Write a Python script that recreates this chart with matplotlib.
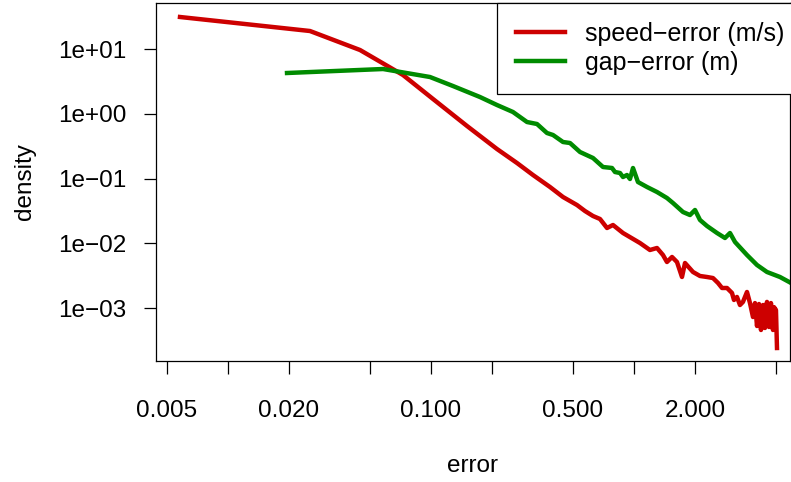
import matplotlib
matplotlib.use("Agg")
import matplotlib.pyplot as plt

plt.rcParams['font.family'] = ['Liberation Sans', 'DejaVu Sans']

# speed-error density
speed_x = [0.00582, 0.0254, 0.0448, 0.0729, 0.1025, 0.1507, 0.2116, 0.2655, 0.3183,
           0.3859, 0.4472, 0.5241, 0.5738, 0.6284, 0.6803, 0.7365, 0.7882, 0.8828,
           1.070, 1.198, 1.298, 1.389, 1.453, 1.539, 1.628, 1.723, 1.783, 1.952,
           2.113, 2.288, 2.448, 2.592, 2.712, 2.870, 3.037, 3.106, 3.214, 3.325,
           3.440, 3.600, 3.724, 3.853, 3.941, 4.033, 4.125, 4.219, 4.315, 4.413,
           4.515, 4.618, 4.724, 4.833, 4.888, 5.000, 5.058]
speed_y = [31.2, 18.96, 9.65, 3.97, 1.692, 0.648, 0.2862, 0.1740, 0.1136,
           0.0742, 0.0520, 0.0391, 0.0316, 0.02646, 0.0238, 0.01729, 0.01923, 0.01447,
           0.01014, 0.00791, 0.00849, 0.00662, 0.00516, 0.00617, 0.00516, 0.00303, 0.00498, 0.00362,
           0.00314, 0.00303, 0.00292, 0.00245, 0.00205, 0.00205, 0.00172, 0.00134, 0.00149, 0.00112,
           0.00125, 0.00178, 0.00120, 0.000731, 0.00120, 0.000531, 0.00116, 0.000461, 0.00112, 0.000495,
           0.00125, 0.000513, 0.00120, 0.000461, 0.00104, 0.000938, 0.000243]

# gap-error density
gap_x = [0.01958, 0.05814, 0.0990, 0.1285, 0.1745, 0.2116, 0.2537, 0.2974, 0.3331,
         0.3729, 0.3994, 0.4472, 0.4842, 0.5423, 0.6284, 0.7038, 0.7793, 0.8063,
         0.8533, 0.8828, 0.9236, 0.9556, 0.9888, 1.046, 1.159, 1.298, 1.453, 1.556,
         1.743, 1.887, 1.997, 2.113, 2.288, 2.563, 2.805, 2.969, 3.143, 3.600,
         4.033, 4.515, 5.233, 5.928]
gap_y = [4.263, 4.913, 3.698, 2.685, 1.816, 1.367, 1.066, 0.747, 0.696,
         0.5056, 0.4708, 0.3671, 0.3543, 0.2573, 0.2079, 0.1510, 0.1458, 0.1264,
         0.1220, 0.1058, 0.1136, 0.0986, 0.1458, 0.0886, 0.0742, 0.0621, 0.0502, 0.0420,
         0.0305, 0.0274, 0.0328, 0.0230, 0.01856, 0.01447, 0.01212, 0.01447, 0.01051, 0.00662,
         0.00464, 0.00362, 0.00303, 0.00245]

x_ticks = [0.005, 0.01, 0.02, 0.05, 0.1, 0.2, 0.5, 1, 2, 5]
x_labels = ["0.005", "", "0.020", "", "0.100", "", "0.500", "", "2.000", ""]
y_ticks = [1e1, 1e0, 1e-1, 1e-2, 1e-3]
y_labels = ["1e+01", "1e+00", "1e\u221201", "1e\u221202", "1e\u221203"]

fig = plt.figure(figsize=(7.91, 4.82), dpi=100)
ax = fig.add_axes([156/791, 1 - 361/482, (790 - 156)/791, (361 - 3)/482])

ax.plot(speed_x, speed_y, color="#CD0000", lw=3.2, solid_joinstyle="round",
        label="speed\u2212error (m/s)")
ax.plot(gap_x, gap_y, color="#008B00", lw=3.2, solid_joinstyle="round",
        label="gap\u2212error (m)")

ax.set_xscale("log")
ax.set_yscale("log")
ax.set_xlim(0.004434, 5.862)
ax.set_ylim(0.0001531, 51.3)
ax.minorticks_off()
ax.set_xticks(x_ticks, labels=x_labels)
ax.set_yticks(y_ticks, labels=y_labels)
ax.tick_params(axis="both", direction="out", length=9, width=0.9, labelsize=17.5)
ax.tick_params(axis="x", pad=19)
ax.tick_params(axis="y", pad=12)
for s in ax.spines.values():
    s.set_linewidth(0.9)

ax.set_xlabel("error", fontsize=17.5, labelpad=24)
ax.set_ylabel("density", fontsize=17.5, labelpad=16)

# right edge of the legend box sits past the figure edge, as in the reference
leg = ax.legend(loc="upper right", bbox_to_anchor=(1.0205, 1.0), borderaxespad=0,
                fancybox=False, edgecolor="black", framealpha=1, fontsize=18,
                handlelength=1.96, handletextpad=0.8, labelspacing=0.2, borderpad=0.75)
leg.get_frame().set_linewidth(0.9)

fig.savefig("out.png", dpi=100)
